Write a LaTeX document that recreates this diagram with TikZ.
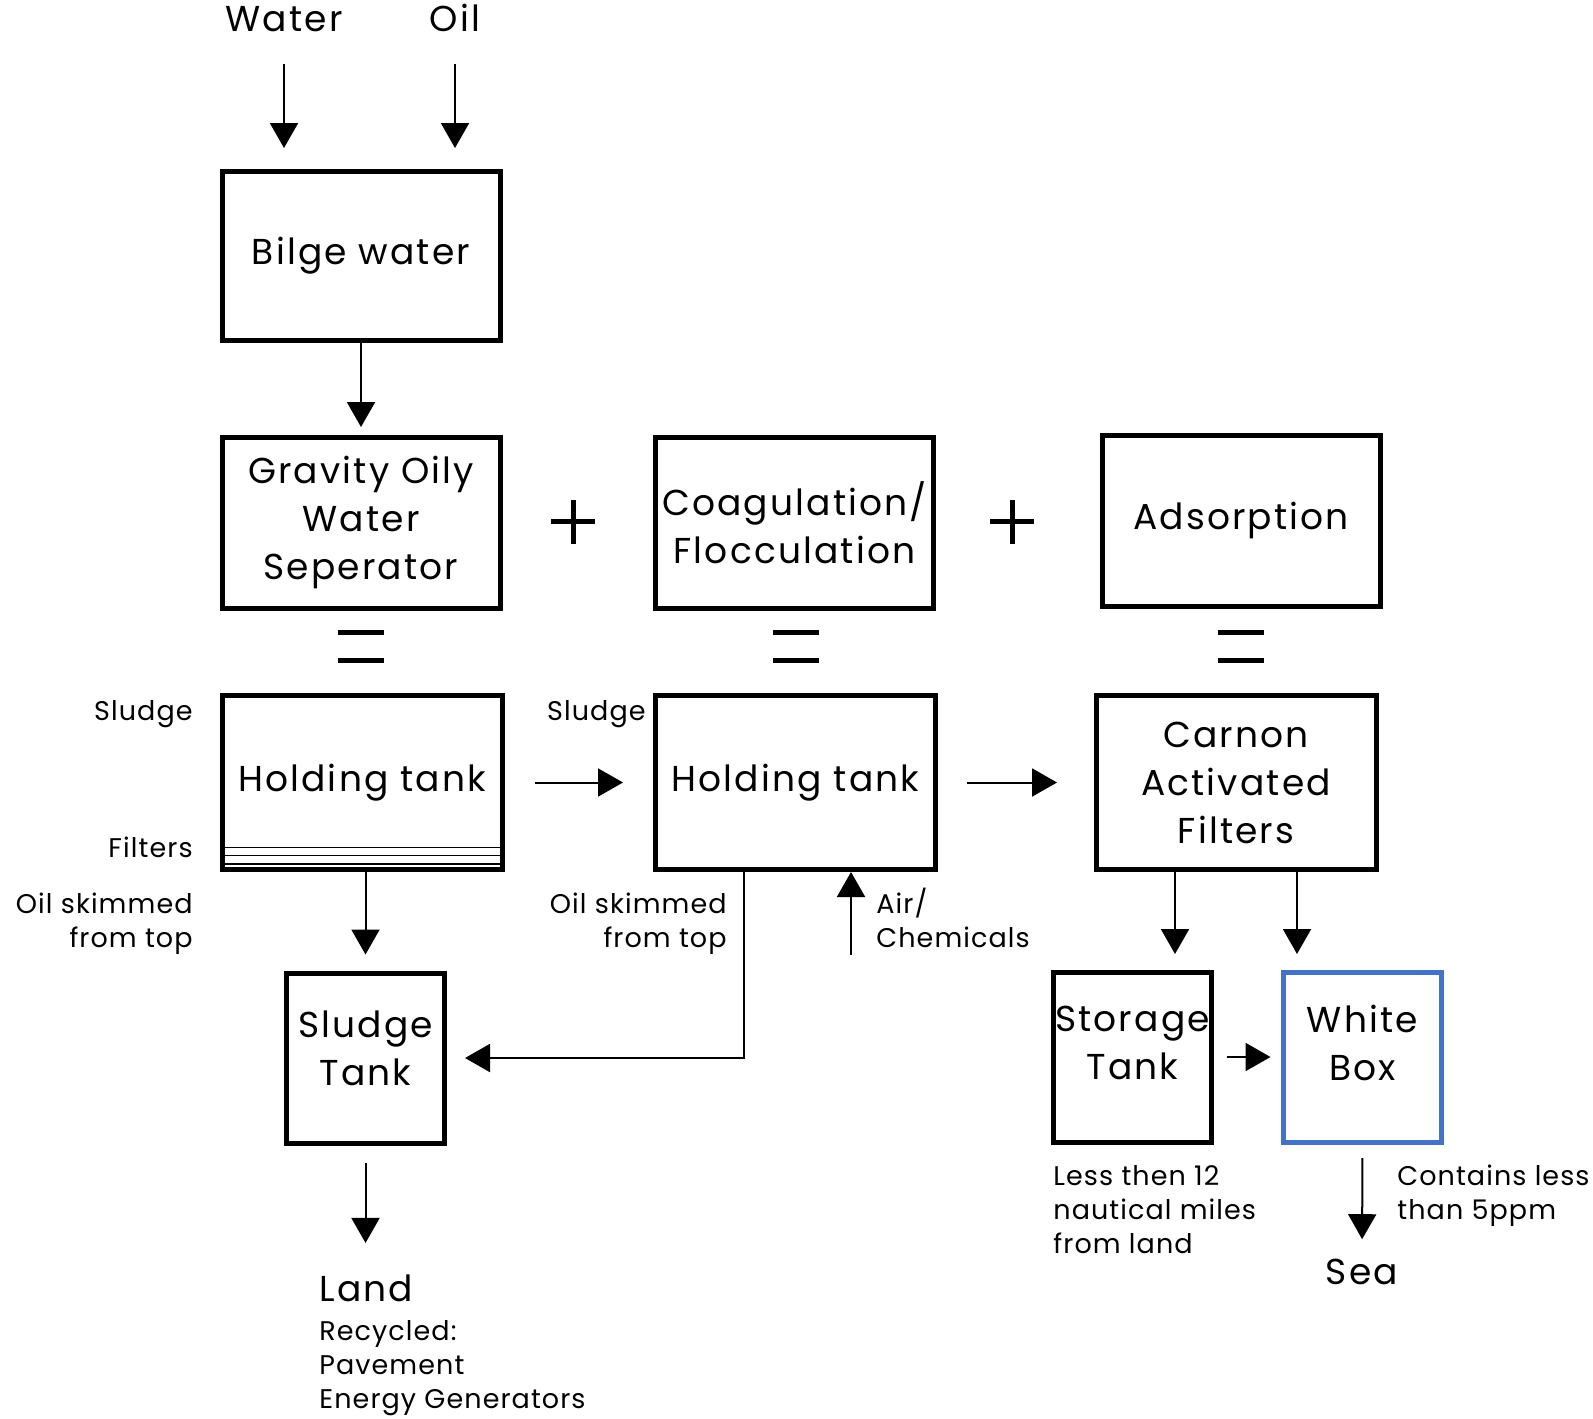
\documentclass[tikz,border=0pt]{standalone}
\usepackage{fontspec}
\setmainfont{Poppins}
\usetikzlibrary{arrows.meta}
\definecolor{boxblue}{HTML}{4472C4}
\newcommand\fbig{\fontsize{18}{24}\selectfont\addfontfeatures{LetterSpace=6}}
\newcommand\fsmall{\fontsize{13.5}{17}\selectfont\addfontfeatures{LetterSpace=4}}
\tikzset{
  box/.style={draw, line width=2.5pt, inner sep=0pt, align=center, font=\fbig},
  toprow/.style={box, minimum width=139pt, minimum height=85.5pt},
  midrow/.style={box, minimum width=140pt, minimum height=87pt},
  lowbox/.style={box, minimum width=79pt, minimum height=85pt},
  bigtxt/.style={inner sep=0pt, font=\fbig, align=center},
  smalltxt/.style={inner sep=0pt, font=\fsmall},
  arr/.style={-{Triangle[length=12.5pt,width=14pt]}, line width=1pt},
  filt/.style={line width=0.6pt},
  sym/.style={line width=2.5pt},
}
\begin{document}
\begin{tikzpicture}[x=0.5pt, y=-0.5pt]
\useasboundingbox[fill=white] (0,0) rectangle (1593,1418);

% inputs
\node[bigtxt, anchor=base] (water) at (284,32) {Water};
\node[bigtxt, anchor=base] (oil) at (455,32) {Oil};

% top row
\node[box, minimum width=139pt, minimum height=84.5pt] (bilge) at (361,255.5) {Bilge water};
\node[toprow] (grav) at (361,522.5) {Gravity Oily\\Water\\Seperator};
\node[toprow] (coag) at (794.5,522.5) {Coagulation/\\Flocculation};
\node[toprow] (ads) at (1241,520.5) {Adsorption};

% middle row
\node[midrow] (ht1) at (362,782.5) {Holding tank};
\node[midrow] (ht2) at (795.5,782.5) {Holding tank};
\node[midrow] (carnon) at (1236,782.5) {Carnon\\Activated\\Filters};

% filters lines inside first holding tank
\draw[filt] ([xshift=1.25pt,yshift=12.25pt]ht1.south west) -- ([xshift=-1.25pt,yshift=12.25pt]ht1.south east);
\draw[filt] ([xshift=1.25pt,yshift=8.25pt]ht1.south west) -- ([xshift=-1.25pt,yshift=8.25pt]ht1.south east);
\draw[filt] ([xshift=1.25pt,yshift=4pt]ht1.south west) -- ([xshift=-1.25pt,yshift=4pt]ht1.south east);

% bottom row
\node[lowbox] (sludge) at (365.5,1058) {};
\node[bigtxt] (sludgeT) at (365.5,1048) {Sludge\\Tank};
\node[lowbox] (storage) at (1132.5,1057) {};
\node[bigtxt] (storageT) at (1132.5,1043) {Storage\\Tank};
\node[lowbox, draw=boxblue] (white) at (1362.5,1057) {};
\node[bigtxt] (whiteT) at (1362.5,1043) {White\\Box};

% plus and equals signs
\draw[sym] (551,521.5) -- (595,521.5) (573,499.5) -- (573,543.5);
\draw[sym] (990,521.5) -- (1034,521.5) (1012,499.5) -- (1012,543.5);
\foreach \cx in {361,796,1241}{
  \draw[sym] (\cx-23,632) -- (\cx+23,632) (\cx-23,660) -- (\cx+23,660);
}

% side labels (base = baseline of last line)
\node[smalltxt, anchor=base east] (sl1) at (193,720) {Sludge};
\node[smalltxt, anchor=base east] (fl1) at (193,857) {Filters};
\node[smalltxt, anchor=base east, align=right] (os1) at (193,947) {Oil skimmed\\from top};
\node[smalltxt, anchor=base east] (sl2) at (646,720) {Sludge};
\node[smalltxt, anchor=base east, align=right] (os2) at (727,947) {Oil skimmed\\from top};
\node[smalltxt, anchor=base west, align=left] (airT) at (876,947) {Air/\\Chemicals};
\node[smalltxt, anchor=base west, align=left] (lessT) at (1053,1253) {Less then 12\\nautical miles\\from land};
\node[smalltxt, anchor=base west, align=left] (contT) at (1397,1219) {Contains less\\than 5ppm};

% outputs
\node[bigtxt, anchor=base west] (land) at (319,1301) {Land};
\node[smalltxt, anchor=base west, align=left] (recyc) at (319,1408) {Recycled:\\Pavement\\Energy Generators};
\node[bigtxt, anchor=base] (sea) at (1362,1284) {Sea};

\coordinate (airin) at (851,955);

% connectors
\draw[arr, shorten <=15.5pt, shorten >=10.25pt] (water.south) -- (water.south |- bilge.north);
\draw[arr, shorten <=15.5pt, shorten >=10.25pt] (oil.south) -- (oil.south |- bilge.north);
\draw[arr, shorten >=3.75pt] (bilge.south) -- (grav.north);
\draw[arr, shorten >=8pt] (sludge.north |- ht1.south) -- (sludge.north);
\draw[arr, shorten <=8.5pt, shorten >=15.5pt] (sludge.south) -- (sludge.south |- land.north);
\draw[arr, shorten <=15.25pt, shorten >=15pt] (ht1.east) -- (ht2.west);
\draw[arr, shorten <=14.5pt, shorten >=18.25pt] (ht2.east) -- (carnon.west);
\draw[arr, shorten >=9pt] ([xshift=-25.75pt]ht2.south) |- (sludge.east);
\draw[arr] (airin) -- (airin |- ht2.south);
\draw[arr, shorten >=7.75pt] ([xshift=-30.5pt]carnon.south) -- ([xshift=-30.5pt]carnon.south |- storage.north);
\draw[arr, shorten >=7.75pt] ([xshift=30.5pt]carnon.south) -- ([xshift=30.5pt]carnon.south |- white.north);
\draw[arr, shorten <=6.25pt, shorten >=5.25pt] (storage.east) -- (white.west);
\draw[arr, shorten <=6.75pt, shorten >=9.5pt] (white.south) -- (sea.north);
\end{tikzpicture}
\end{document}
